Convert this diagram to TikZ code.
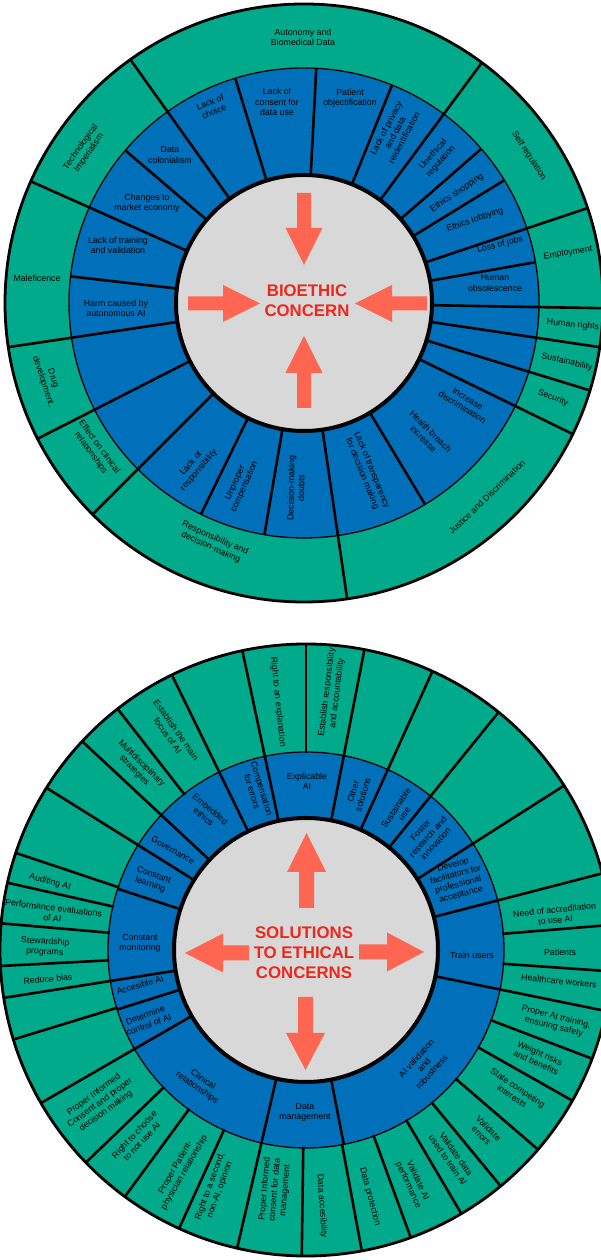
\documentclass[tikz,border=0pt]{standalone}
\usepackage{fontspec}
\setmainfont{Liberation Sans}
\definecolor{ringgreen}{RGB}{0,170,138}
\definecolor{ringblue}{RGB}{0,112,186}
\definecolor{coregray}{RGB}{216,216,216}
\definecolor{arrowcoral}{RGB}{255,102,82}
\definecolor{titlered}{RGB}{236,40,28}
\tikzset{
  lbl/.style={align=center, inner sep=0pt, font=\fontsize{8.8}{10.2}\selectfont, text=black},
  rline/.style={line width=2.6pt, draw=black},
  ringline/.style={line width=1.3pt, draw=black},
  outerline/.style={line width=2.8pt, draw=black},
  coreline/.style={line width=4pt, draw=black},
  titletext/.style={align=center, inner sep=0pt, text=titlered, font=\fontsize{16.8}{19.8}\selectfont\bfseries},
}
\newcommand\seglabel[5]{\node[lbl,rotate=#4] (#1) at (#2,-#3) {#5};}
\newcommand\blockarrow[7]{%
  \fill[arrowcoral, shift={(#1,-#2)}, rotate=#3] (0,-#6) -- (#4,-#6) -- (#4,-#7) -- ({#4+#5},0) -- (#4,#7) -- (#4,#6) -- (0,#6) -- cycle;}
\begin{document}
\begin{tikzpicture}[x=1pt,y=1pt]
\fill[white] (0,0) rectangle (601,1260);
\useasboundingbox (0,0) rectangle (601,1260);
\begin{scope}[shift={(0,1260)}]
% ================= TOP CHART =================
\begin{scope}[shift={(304,-303)}]
  \fill[ringgreen] (0,0) circle[radius=299];
  \fill[ringblue] (0,0) circle[radius=235];
  \foreach \a in {107,87,68,53.5,41,31.5,18.5,10,-1,-8.5,-17,-26,-59,-81.7,-99.7,-116,-135,-153,-171.5,173.5,156,139.5,125.5}
    \draw[rline] (\a:120) -- (\a:235);
  \foreach \a in {53.5,18.5,-1,-8.5,-17,-26,-81.7,-135,-153,-171.5,156,125.5}
    \draw[rline] (\a:234) -- (\a:299);
  \draw[ringline] (0,0) circle[radius=235];
  \draw[outerline] (0,0) circle[radius=299];
  \fill[coregray] (0,0) circle[radius=128];
  \draw[coreline] (0,0) circle[radius=128];
\end{scope}
% green labels
\seglabel{t1}{303}{37}{0}{Autonomy and\\Biomedical Data}
\seglabel{t2}{529}{156}{-57}{Self regulation}
\seglabel{t3}{568}{253}{9}{Employment}
\seglabel{t4}{573}{325}{-5}{Human rights}
\seglabel{t5}{567}{362}{-13}{Sustainability}
\seglabel{t6}{553}{398}{-21}{Security}
\seglabel{t7}{487}{497}{44}{Justice and Discrimination}
\seglabel{t8}{213}{543}{-24}{Responsibility and\\decision-making}
\seglabel{t9}{95}{450}{-54}{Effect on clinical\\relationships}
\seglabel{t10}{48}{380}{-72}{Drug\\development.}
\seglabel{t11}{37}{278}{0}{Maleficence}
\seglabel{t12}{85}{150}{55}{Technological\\Imperialism}
% blue labels
\seglabel{t13}{212}{107}{22}{Lack of\\choice}
\seglabel{t14}{277}{102}{0}{Lack of\\consent for\\data use}
\seglabel{t15}{350}{98}{0}{Patient\\objectification}
\seglabel{t16}{395}{133}{62}{Lack of privacy\\and data\\reidentification}
\seglabel{t17}{437}{158}{48}{Unethical\\regulation}
\seglabel{t18}{457}{193}{34}{Ethics shopping}
\seglabel{t19}{475}{220}{19}{Ethics lobbying}
\seglabel{t20}{500}{245}{14}{Loss of jobs}
\seglabel{t21}{495}{283}{0}{Human\\obsolescence}
\seglabel{t22}{465}{403}{-32}{Increase\\discrimination}
\seglabel{t23}{427}{435}{-45}{Health breach\\increase}
\seglabel{t24}{367}{472}{-68}{Lack of transparency\\for decision making}
\seglabel{t25}{296}{488}{89}{Decision-making\\doubts}
\seglabel{t26}{240}{485}{66}{Unproper\\compensation}
\seglabel{t27}{195}{467}{49}{Lack of\\responsibility}
\seglabel{t28}{116}{308}{0}{Harm caused by\\autonomous AI}
\seglabel{t29}{118}{245}{0}{Lack of training\\and validation}
\seglabel{t30}{147}{203}{0}{Changes to\\market economy}
\seglabel{t31}{170}{155}{0}{Data\\colonialism}
% arrows and title
\blockarrow{304}{193}{-90}{35}{37}{7}{18.5}
\blockarrow{188}{303.5}{0}{35}{37}{7}{18.5}
\blockarrow{427}{303.5}{180}{35}{37}{7}{18.5}
\blockarrow{304}{408}{90}{35}{37}{7}{18.5}
\node[titletext] (topTitle) at (307,-300.5) {BIOETHIC\\CONCERN};
% ================= BOTTOM CHART =================
\begin{scope}[shift={(306,-950)}]
  \fill[ringgreen] (0,0) circle[radius=306];
  \fill[ringblue] (0,0) circle[radius=198];
  \foreach \a in {79,102,116,137,148,162,189,197.5,210,257,281,-11.5,14.5,32.5,51,65.6}
    \draw[rline] (\a:124) -- (\a:198);
  \foreach \a in {90,102,116,128,137,148,161.5,167.3,175,183,189,197,210,224,233.7,245.5,257,269.2,280.5,290,300.5,309.5,319.3,330.5,339.2,-11.5,-4,4.7,14.5,32.5,51,65.6,79}
    \draw[rline] (\a:197) -- (\a:306);
  \draw[ringline] (0,0) circle[radius=198];
  \draw[outerline] (0,0) circle[radius=306];
  \fill[coregray] (0,0) circle[radius=132];
  \draw[coreline] (0,0) circle[radius=132];
\end{scope}
% blue labels
\seglabel{b1}{307}{781}{0}{Explicable\\AI}
\seglabel{b2}{257}{790}{-73}{Compensation\\for errors}
\seglabel{b3}{207}{813}{-40}{Embedded\\ethics}
\seglabel{b4}{173}{850}{-30}{Governance}
\seglabel{b5}{152}{880}{-20}{Constant\\learning}
\seglabel{b6}{140}{943}{0}{Constant\\monitoring}
\seglabel{b7}{140}{985}{16}{Accesible AI}
\seglabel{b8}{147}{1020}{20}{Determine\\control of AI}
\seglabel{b9}{200}{1084}{-35}{Clinical\\relationships}
\seglabel{b10}{305}{1112}{0}{Data\\management}
\seglabel{b11}{424}{1065}{48}{AI validation\\and\\robustness}
\seglabel{b12}{472}{955}{0}{Train users}
\seglabel{b13}{457}{880}{15}{Develop\\facilitators for\\professional\\acceptance}
\seglabel{b14}{428}{837}{48}{Foster\\research and\\innovation}
\seglabel{b15}{400}{811}{56}{Sustainable\\use}
\seglabel{b16}{358}{793}{73}{Other\\solutions}
% green labels
\seglabel{b17}{278}{702}{-84}{Right to an explanation}
\seglabel{b18}{332}{693}{83}{Establish responsibility\\and accountability}
\seglabel{b19}{172}{733}{-55}{Establish the main\\focus of AI}
\seglabel{b20}{138}{767}{-45}{Multidisciplinary\\strategies}
\seglabel{b21}{50}{882}{-15}{Auditing AI}
\seglabel{b22}{53}{913}{-7}{Performance evaluations\\of AI}
\seglabel{b23}{45}{947}{-3}{Stewardship\\programs}
\seglabel{b24}{48}{979}{5}{Reduce bias}
\seglabel{b25}{100}{1103}{36}{Proper Informed\\Consent and proper\\decision making}
\seglabel{b26}{138}{1138}{47}{Right to choose\\to not use AI}
\seglabel{b27}{180}{1170}{60}{Proper Patient-\\physician relationship}
\seglabel{b28}{215}{1188}{70}{Right to a second,\\non-AI, opinion}
\seglabel{b29}{275}{1190}{85}{Proper Informed\\consent for data\\management}
\seglabel{b30}{322}{1206}{-86}{Data accesibility}
\seglabel{b31}{370}{1197}{-75}{Data protection}
\seglabel{b32}{413}{1183}{-65}{Validate AI\\performance}
\seglabel{b33}{452}{1157}{-55}{Validate data\\used to train AI}
\seglabel{b34}{485}{1132}{-45}{Validate\\errors}
\seglabel{b35}{515}{1092}{-34}{State competing\\interests}
\seglabel{b36}{538}{1058}{-24}{Weight risks\\and benefits}
\seglabel{b37}{555}{1022}{-14}{Proper AI training,\\ensuring safety}
\seglabel{b38}{559}{981}{-6}{Healthcare workers}
\seglabel{b39}{560}{952}{0}{Patients}
\seglabel{b40}{555}{915}{6}{Need of accreditation\\to use AI}
% arrows and title
\blockarrow{306.5}{908}{90}{36}{39}{7.5}{19.5}
\blockarrow{249}{953}{180}{26}{38}{7.5}{19.5}
\blockarrow{359}{952}{0}{28}{37}{7.5}{19.5}
\blockarrow{305.5}{997}{-90}{36}{37}{7.5}{19.5}
\node[titletext] (bottomTitle) at (304,-953) {SOLUTIONS\\TO ETHICAL\\CONCERNS};
\end{scope}
\end{tikzpicture}
\end{document}
